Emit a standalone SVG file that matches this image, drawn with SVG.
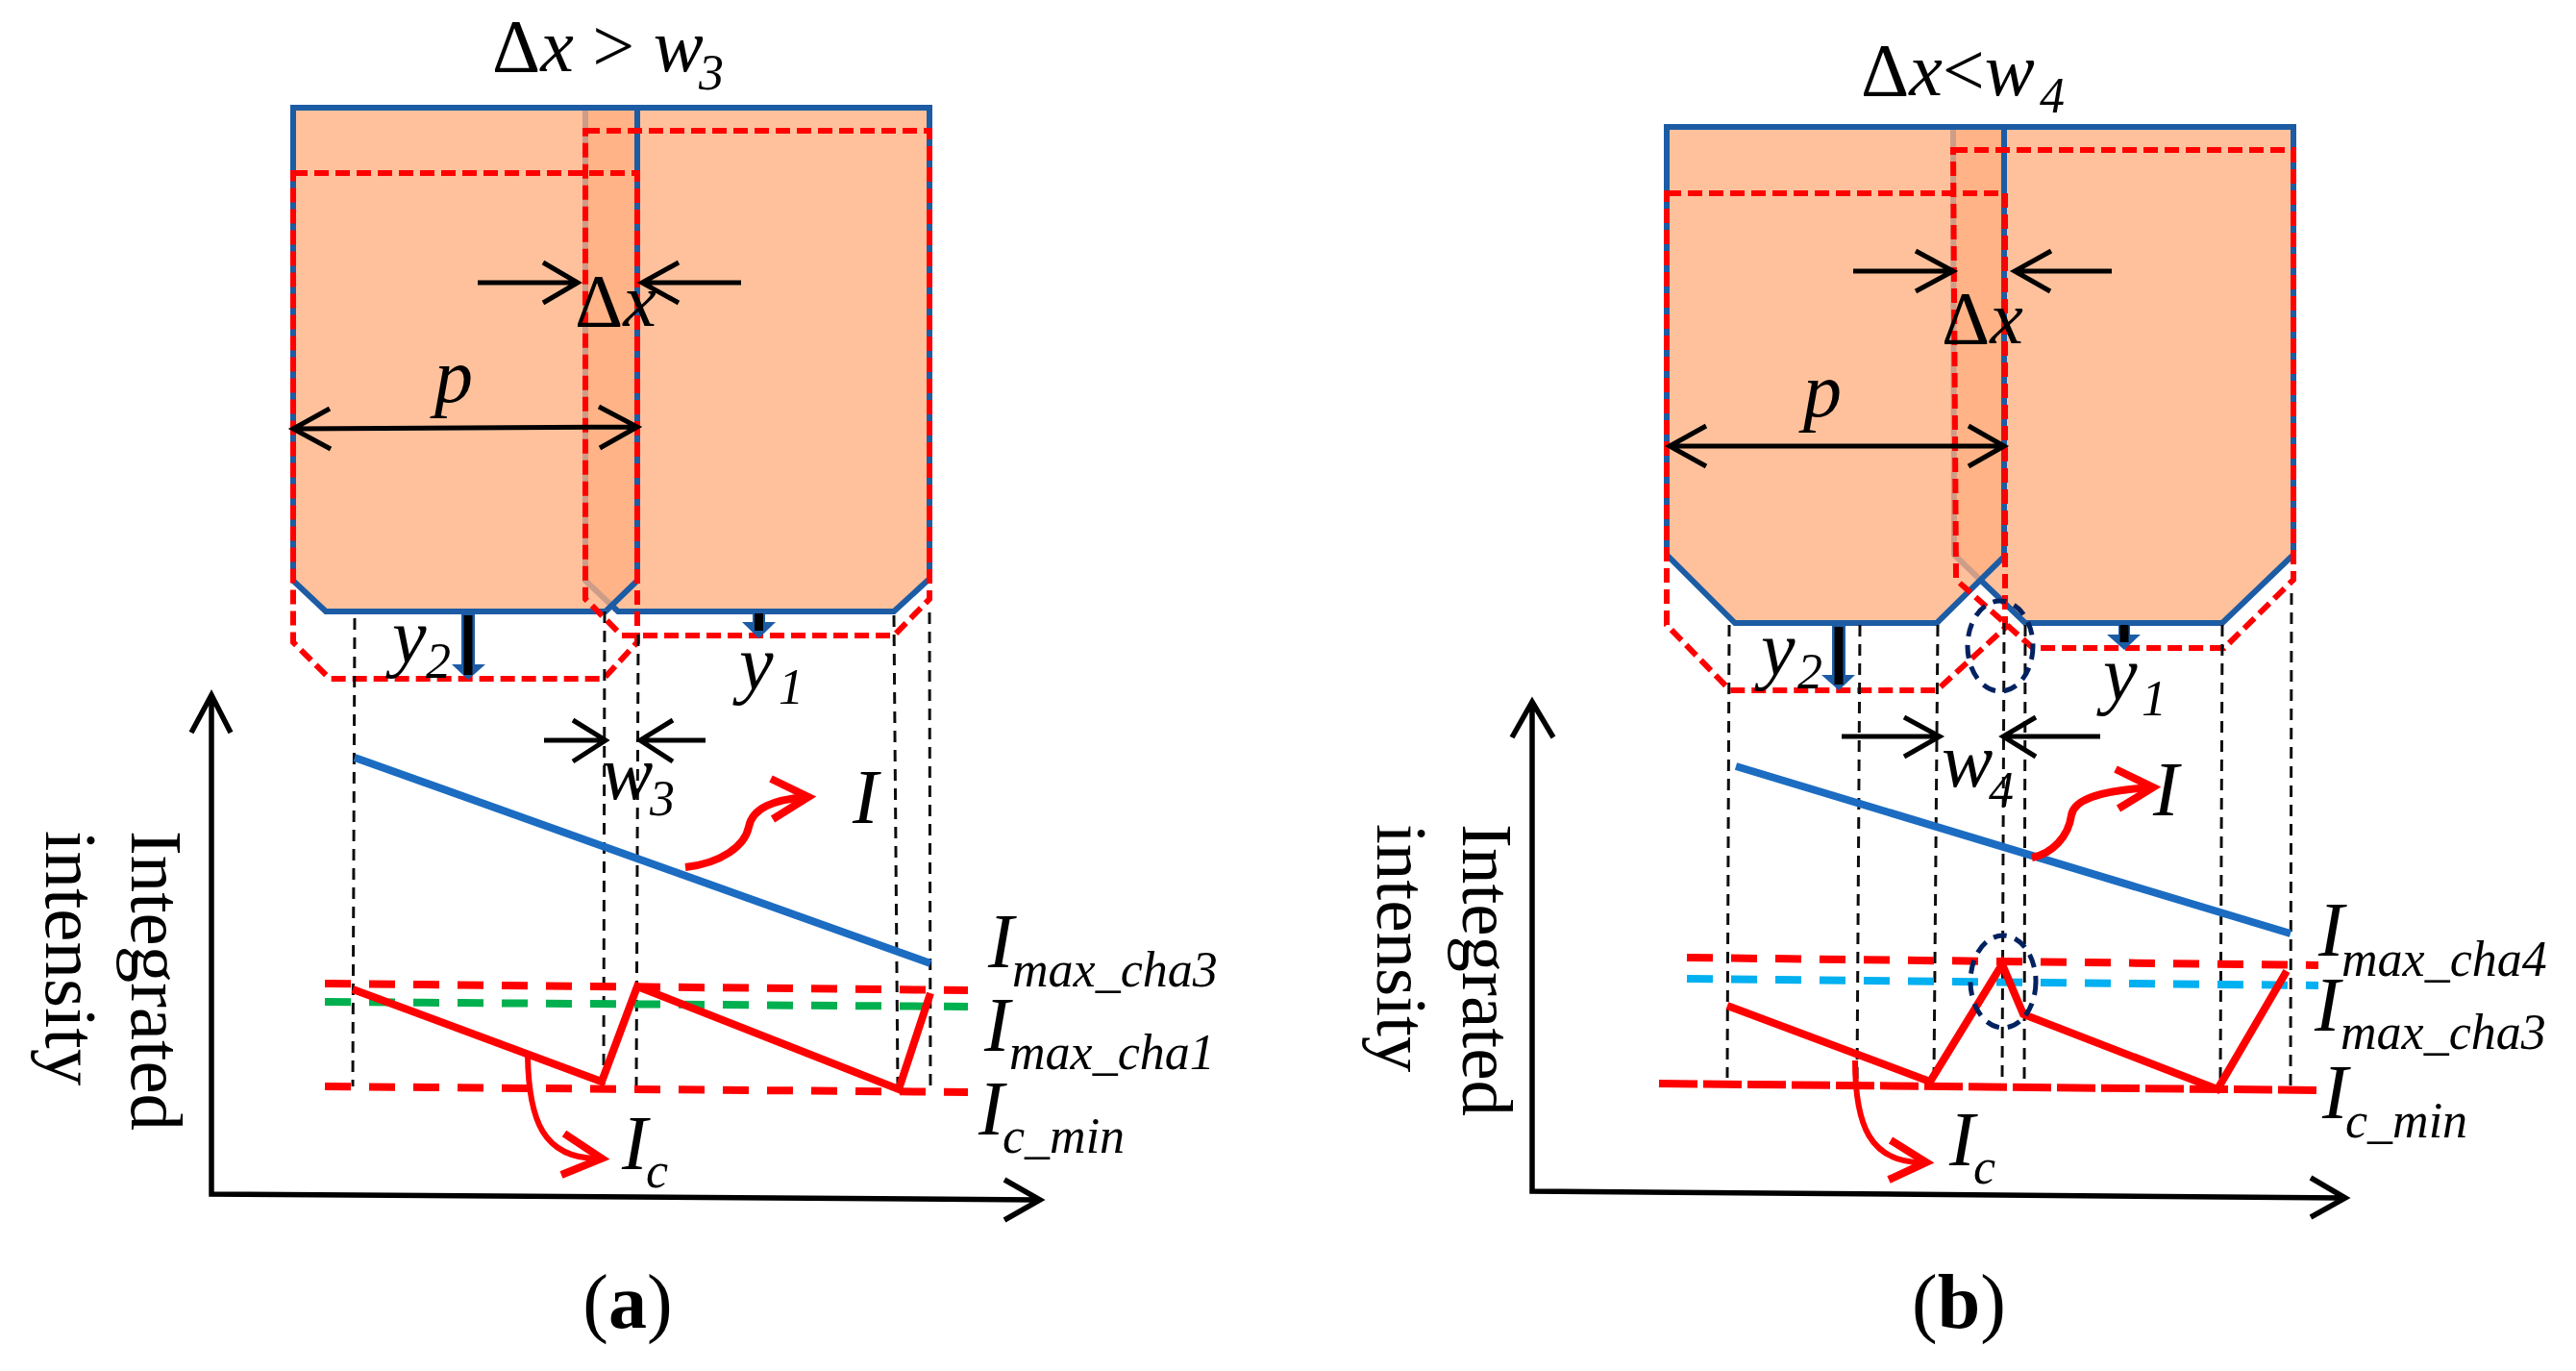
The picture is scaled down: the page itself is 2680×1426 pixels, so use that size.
<svg xmlns="http://www.w3.org/2000/svg" width="2680" height="1426" viewBox="0 0 2680 1426">
<style>
text{font-family:"Liberation Serif","Times New Roman",serif;fill:#000}
.t{font-size:78px}.m{font-size:80px;font-style:italic}.i{font-style:italic}.s{font-size:52px;font-style:italic}.l{font-size:77px}.c{font-size:80px}
.base{fill:#FFC19C;stroke:#1F5CA5;stroke-width:6;stroke-linejoin:miter}
.top{fill:#FFAF80;fill-opacity:.78;stroke:none}
.edge{fill:none;stroke:#1F5CA5;stroke-width:6}
.rd{fill:none;stroke:#F00;stroke-width:6;stroke-dasharray:15 7}
.thin{fill:none;stroke:#111;stroke-width:3;stroke-dasharray:12 8}
.ar{fill:none;stroke:#000;stroke-width:5}
.ax{fill:none;stroke:#000;stroke-width:5.5}
.bl{fill:none;stroke:#1A6CC2;stroke-width:8}
.zz{fill:none;stroke:#F00;stroke-width:8;stroke-linejoin:miter}
.rc{fill:none;stroke:#F00;stroke-width:6}
.rh{fill:none;stroke:#F00;stroke-width:8}
.ld{fill:none;stroke:#F00;stroke-width:8;stroke-dasharray:27 19}
.ell{fill:none;stroke:#002060;stroke-width:5;stroke-dasharray:14 9}
.hd{fill:#1F5CA5}
.sh{fill:none;stroke:#000;stroke-width:9}
</style>
<defs><filter id="soft" x="0" y="0" width="100%" height="100%"><feGaussianBlur stdDeviation="0.7"/></filter></defs>
<g filter="url(#soft)">
<g id="panel-a">
<g id="a-emitters">
<polygon class="base" points="609,112 967,112 967,602 930,636 643,636 609,604"/>
<polygon class="top" points="305,112 663,112 663,604 630,636 339,636 305,604"/>
<polyline class="edge" points="663,112 305,112 305,604 339,636 630,636 663,604 663,112"/>
<polygon class="rd" points="305,180 663,180 663,668 628,706 343,706 305,668"/>
<polygon class="rd" points="609,136 967,136 967,623 930,661 647,661 609,623"/>
</g>
<g id="a-connectors">
<path class="thin" d="M369 643L367 1130M629 636L628 1130M664 660L662 1133M930 640L934 1130M967 637L968 1132"/>
<path class="ar" d="M497 294L599 294M565 273L601 294L565 315M771 294L670 294M706 273L668 294L706 315"/>
<path class="ar" d="M305 446L661 444M343 425L305 446L344 467M623 423L663 444L624 466"/>
<path class="ar" d="M566 770L628 770M596 749L630 770L596 792M734 770L668 770M700 749L666 770L700 792"/>
<path class="hd" d="M480 636H494V691H505L487 707L470 691H480Z"/><path class="sh" d="M487 640V702"/>
<path class="hd" d="M783 636H796V647H807L789.5 664L772 647H783Z"/><path class="sh" d="M789.5 638V656"/>
<path class="ax" d="M220 723V1242L1080 1248M199 762L220 723L240 762M1045 1227L1082 1248L1045 1269"/>
<path class="bl" d="M369 788L968 1002"/>
<path class="ld" d="M338 1023L1007 1030"/>
<path class="ld" style="stroke:#00B050" d="M338 1042L1007 1047"/>
<path class="ld" d="M338 1130L1007 1136"/>
<polyline class="zz" points="367,1029 626,1125 663,1026 935,1133 968,1033"/>
<path class="rc" style="stroke-width:8" d="M713 902C750 898 775 880 779 860C783 840 805 832 838 829"/>
<path class="rh" d="M802 810L841 829L804 852"/>
<path class="rc" d="M549 1098C550 1165 565 1205 622 1205"/>
<path class="rh" d="M587 1179L626 1205L584 1222"/>
</g>
<g id="a-labels">
<text class="t" x="512" y="74">Δ<tspan class="i">x</tspan> &gt; <tspan class="i">w</tspan></text>
<text class="s" x="727" y="93">3</text>
<text class="t" x="598" y="339">Δ<tspan class="i">x</tspan></text>
<text class="m" x="452" y="418">p</text>
<text class="m" x="408" y="689">y</text><text class="s" x="443" y="705">2</text>
<text class="m" x="769" y="717">y</text><text class="s" x="810" y="732">1</text>
<text class="m" x="626" y="831">w</text><text class="s" x="676" y="848">3</text>
<text class="m" x="887" y="856">I</text>
<text class="m" x="1028" y="1006">I</text><text class="s" x="1053" y="1026">max_cha3</text>
<text class="m" x="1024" y="1093">I</text><text class="s" x="1050" y="1112">max_cha1</text>
<text class="m" x="1018" y="1180">I</text><text class="s" x="1043" y="1199">c_min</text>
<text class="m" x="647" y="1216">I</text><text class="s" x="672" y="1235">c</text>
<text class="l" transform="translate(137 864) rotate(90)">Integrated</text>
<text class="l" transform="translate(48 864) rotate(90)">intensity</text>
<text class="c" text-anchor="middle" x="653" y="1381">(<tspan font-weight="bold">a</tspan>)</text>
</g>
</g>
<g id="panel-b">
<g id="b-emitters">
<polygon class="base" points="2032,132 2386,132 2386,577 2312,648 2107,648 2033,577"/>
<polygon class="top" points="1734,132 2085,132 2085,579 2015,648 1805,648 1734,577"/>
<polyline class="edge" points="2085,132 1734,132 1734,577 1805,648 2015,648 2085,579 2085,132"/>
<polygon class="rd" points="1734,201 2086,201 2086,653 2015,718 1800,718 1734,650"/>
<polygon class="rd" points="2032,156 2386,156 2386,603 2314,674 2115,674 2035,603"/>
</g>
<g id="b-connectors">
<path class="thin" d="M1799 650L1797 1121M1935 650L1932 1126M2016 650L2012 1121M2085 648L2083 1128M2107 650L2106 1128M2312 650L2310 1128M2384 617L2383 1130"/>
<path class="ar" d="M1928 282L2030 282M1993 261L2032 282L1993 303M2197 282L2098 282M2134 261L2096 282L2133 303"/>
<path class="ar" d="M1737 464L2083 464M1775 443L1737 464L1775 485M2048 443L2085 464L2048 485"/>
<path class="ar" d="M1916 766L2016 766M1981 746L2018 766L1981 787M2185 766L2086 766M2118 746L2084 766L2118 787"/>
<path class="hd" d="M1906 649H1920V702H1930L1913 718L1895 702H1906Z"/><path class="sh" d="M1913 652V712"/>
<path class="hd" d="M2204 649H2216V660H2227L2210 676L2192 660H2204Z"/><path class="sh" d="M2210 650V668"/>
<path class="ax" d="M1594 730V1239L2438 1246M1573 767L1594 730L1616 767M2404 1225L2440 1246L2404 1266"/>
<path class="bl" d="M1806 797L2383 971"/>
<path class="ld" d="M1755 996L2412 1004"/>
<path class="ld" style="stroke:#00B0F0" d="M1755 1018L2412 1025"/>
<path class="ld" style="stroke-dasharray:40 6" d="M1726 1127L2412 1134"/>
<polyline class="zz" points="1797,1046 2008,1125 2083,1003 2105,1055 2307,1133 2379,1010"/>
<path class="rc" style="stroke-width:8" d="M2114 892C2135 888 2152 870 2155 848C2158 830 2190 822 2238 819"/>
<path class="rh" d="M2201 800L2240 819L2204 841"/>
<path class="rc" d="M1930 1103C1930 1170 1945 1209 2000 1209"/>
<path class="rh" d="M1967 1186L2004 1209L1965 1227"/>
<ellipse class="ell" cx="2081" cy="672" rx="34" ry="47"/>
<ellipse class="ell" cx="2084" cy="1021" rx="34" ry="48"/>
</g>
<g id="b-labels">
<text class="t" x="1936" y="99">Δ<tspan class="i">x</tspan>&lt;<tspan class="i">w</tspan></text>
<text class="s" x="2122" y="117">4</text>
<text class="t" x="2020" y="357">Δ<tspan class="i">x</tspan></text>
<text class="m" x="1876" y="433">p</text>
<text class="m" x="1832" y="702">y</text><text class="s" x="1870" y="716">2</text>
<text class="m" x="2188" y="728">y</text><text class="s" x="2228" y="744">1</text>
<text class="m" x="2020" y="818">w</text><text class="s" x="2069" y="839">4</text>
<text class="m" x="2240" y="848">I</text>
<text class="m" x="2412" y="994">I</text><text class="s" x="2436" y="1015">max_cha4</text>
<text class="m" x="2408" y="1072">I</text><text class="s" x="2435" y="1091">max_cha3</text>
<text class="m" x="2416" y="1163">I</text><text class="s" x="2440" y="1183">c_min</text>
<text class="m" x="2028" y="1212">I</text><text class="s" x="2053" y="1231">c</text>
<text class="l" style="font-size:75px" transform="translate(1522 857) rotate(90)">Integrated</text>
<text class="l" style="font-size:75px" transform="translate(1433 857) rotate(90)">intensity</text>
<text class="c" text-anchor="middle" x="2038" y="1381">(<tspan font-weight="bold">b</tspan>)</text>
</g>
</g>
</g>
</svg>
